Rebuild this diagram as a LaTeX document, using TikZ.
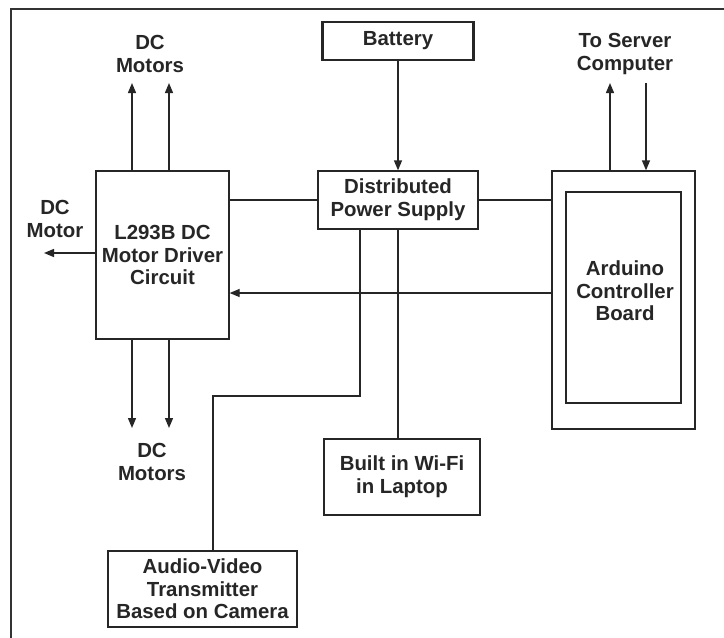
\documentclass[tikz,border=0pt]{standalone}
\usepackage{fontspec}
\setmainfont{Liberation Sans}
\usetikzlibrary{arrows.meta}
\tikzset{
  blk/.style={draw=black!85,line width=0.65pt,align=center,inner sep=0pt,
    font=\bfseries\fontsize{10.2}{11.3}\selectfont,text=black!85},
  lbl/.style={align=center,inner sep=0pt,font=\bfseries\fontsize{10.2}{11.3}\selectfont,text=black!85},
  wire/.style={draw=black!85,line width=0.65pt}
}
\begin{document}
\begin{tikzpicture}[x=0.5pt,y=-0.5pt,>={Triangle[length=5pt,width=4pt]}]
  \useasboundingbox[fill=white] (0,0) rectangle (724,638);
  % frame, cut off at the right and bottom
  \draw[black!80,line width=1pt] (10.5,640) -- (10.5,8.5) -- (726,8.5);
  % blocks
  \node[blk,line width=1.2pt,minimum width=75.5pt,minimum height=19pt] (bat) at (398,41) {Battery};
  \node[blk,minimum width=80pt,minimum height=29pt] (dps) at (398,200) {Distributed\\Power Supply};
  \node[blk,minimum width=66.5pt,minimum height=84pt] (drv) at (162.5,255) {L293B DC\\Motor Driver\\Circuit};
  \node[blk,minimum width=71.5pt,minimum height=129pt] (ard) at (623.5,300) {};
  \node[blk,minimum width=57.5pt,minimum height=105.5pt] (ardin) at (623.5,297.5) {};
  \node[lbl] (ardtxt) at (625,291) {Arduino\\Controller\\Board};
  \node[blk,minimum width=78pt,minimum height=38pt] (wifi) at (402,477) {Built in Wi-Fi\\in Laptop};
  \node[blk,minimum width=94.5pt,minimum height=38pt] (av) at (202.5,589) {Audio-Video\\Transmitter\\Based on Camera};
  % free labels
  \node[lbl] (mtop) at (150,54) {DC\\Motors};
  \node[lbl] (mleft) at (55,219) {DC\\Motor};
  \node[lbl] (mbot) at (152,462) {DC\\Motors};
  \node[lbl] (srv) at (625,54) {To Server\\Computer};
  % arrow ends
  \coordinate (mt1) at (132,83);
  \coordinate (mt2) at (169,83);
  \coordinate (mb1) at (132,428);
  \coordinate (mb2) at (169,428);
  \coordinate (ml) at (44,253);
  \coordinate (su) at (610,83);
  \coordinate (sd) at (646,83);
  \coordinate (ctl) at (0,293);
  \coordinate (avk) at (360,396);
  \coordinate (avj) at (213,396);
  % connectors
  \draw[wire,->] (bat.south) -- (bat.south |- dps.north);
  \draw[wire,->] (mt1 |- drv.north) -- (mt1);
  \draw[wire,->] (mt2 |- drv.north) -- (mt2);
  \draw[wire,->] (mb1 |- drv.south) -- (mb1);
  \draw[wire,->] (mb2 |- drv.south) -- (mb2);
  \draw[wire,->] (drv.west |- ml) -- (ml);
  \draw[wire] (dps.west) -- (dps.west -| drv.east);
  \draw[wire] (dps.east) -- (dps.east -| ard.west);
  \draw[wire,->] (ard.west |- ctl) -- (drv.east |- ctl);
  \draw[wire,->] (su |- ard.north) -- (su);
  \draw[wire,->] (sd) -- (sd |- ard.north);
  \draw[wire] (dps.south) -- (dps.south |- wifi.north);
  \draw[wire] (avk |- dps.south) -- (avk) -- (avj) -- (avj |- av.north);
\end{tikzpicture}
\end{document}
